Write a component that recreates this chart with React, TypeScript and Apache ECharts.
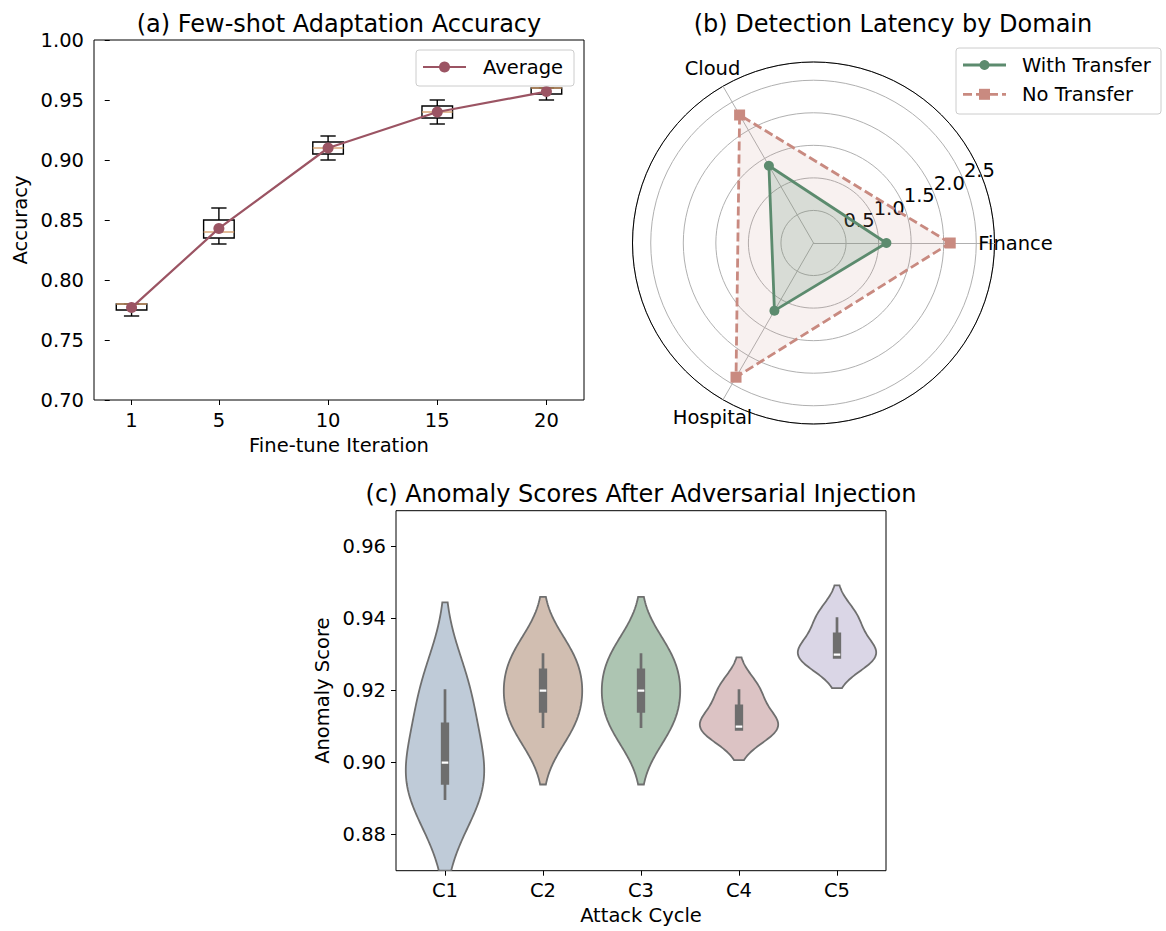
import React, { useEffect, useRef } from "react";
import * as echarts from "echarts";

// ---------- data ----------
// (a) few-shot adaptation accuracy, samples per fine-tune iteration
const ITERATIONS = [1, 5, 10, 15, 20];
const ACC_IT1 = [0.77, 0.775, 0.78, 0.78, 0.78];
const ACC_IT5 = [0.83, 0.835, 0.84, 0.85, 0.86];
const ACC_IT10 = [0.9, 0.905, 0.91, 0.915, 0.92];
const ACC_IT15 = [0.93, 0.935, 0.94, 0.945, 0.95];
const ACC_IT20 = [0.95, 0.955, 0.96, 0.96, 0.96];
const ACC_SAMPLES = [ACC_IT1, ACC_IT5, ACC_IT10, ACC_IT15, ACC_IT20];

// (b) detection latency by domain
const DOMAINS = ["Finance", "Cloud", "Hospital"];
const LATENCY_WITH = [1.12, 1.37, 1.2];
const LATENCY_NO = [2.1, 2.27, 2.38];
const RADIAL_MAX = 2.78;
const RADIAL_STEP = 0.5;

// (c) anomaly scores per attack cycle
const CYCLES = ["C1", "C2", "C3", "C4", "C5"];
const SCORES_C1 = [0.89, 0.9, 0.92];
const SCORES_C2 = [0.91, 0.92, 0.93];
const SCORES_C3 = [0.91, 0.92, 0.93];
const SCORES_C4 = [0.91, 0.91, 0.92];
const SCORES_C5 = [0.93, 0.93, 0.94];
const SCORES = [SCORES_C1, SCORES_C2, SCORES_C3, SCORES_C4, SCORES_C5];
const SCORE_TICKS = [0.88, 0.9, 0.92, 0.94, 0.96];

// ---------- styling ----------
const FONT = "DejaVu Sans";
const TICK_FS = 19.5;
const LABEL_FS = 19.5;
const TITLE_FS = 24;
const LINE_COLOR = "#9b5463";
const MEDIAN_COLOR = "#d6a06c";
const GREEN = "#5c8b6e";
const PINK = "#c98a80";
const VIOLIN_COLORS = ["#bfcbd8", "#d1beb1", "#adc5b2", "#dcc3c4", "#dad6e6"];
const VIOLIN_EDGE = "#6f6f6f";
const INNER_COLOR = "#6e6e6e";
const BOX_WIDTH = 1.4;

const POLAR_CX = 813.5;
const POLAR_CY = 243;
const POLAR_R = 181;
const NAME_R = 202;

// ---------- helpers ----------
function percentile(arr: number[], p: number) {
  const s = [...arr].sort((a, b) => a - b);
  const idx = (s.length - 1) * p;
  const lo = Math.floor(idx);
  const hi = Math.ceil(idx);
  return s[lo] + (s[hi] - s[lo]) * (idx - lo);
}
function mean(arr: number[]) {
  return arr.reduce((a, b) => a + b, 0) / arr.length;
}
function boxStats(arr: number[]) {
  const q1 = percentile(arr, 0.25);
  const med = percentile(arr, 0.5);
  const q3 = percentile(arr, 0.75);
  const iqr = q3 - q1;
  const lo = Math.min(...arr.filter((v) => v >= q1 - 1.5 * iqr));
  const hi = Math.max(...arr.filter((v) => v <= q3 + 1.5 * iqr));
  return { lo, q1, med, q3, hi };
}
function kde(arr: number[]) {
  const n = arr.length;
  const m = mean(arr);
  const sd = Math.sqrt(arr.reduce((a, b) => a + (b - m) * (b - m), 0) / (n - 1));
  const bw = Math.pow(n, -0.2) * sd;
  const lo = Math.min(...arr) - 2 * bw;
  const hi = Math.max(...arr) + 2 * bw;
  const ys: number[] = [];
  const ds: number[] = [];
  const G = 100;
  for (let k = 0; k < G; k++) {
    const y = lo + ((hi - lo) * k) / (G - 1);
    let d = 0;
    for (const x of arr) d += Math.exp(-0.5 * ((y - x) / bw) ** 2);
    ys.push(y);
    ds.push(d);
  }
  const mx = Math.max(...ds);
  return { ys, ws: ds.map((d) => d / mx), lo, hi };
}

const ACC_BOX = ACC_SAMPLES.map(boxStats);
const ACC_MEAN = ACC_SAMPLES.map(mean);
const VIOLINS = SCORES.map(kde);
const VIOLIN_BOX = SCORES.map(boxStats);

const Y_C_MIN = 0.87;
const Y_C_MAX = 0.97;

export default function App() {
  const ref = useRef<HTMLDivElement>(null);
  useEffect(() => {
    if (!ref.current) return;
    const chart = echarts.init(ref.current, null, { renderer: "svg" });

    const tickLabel = { fontSize: TICK_FS, color: "#000", fontFamily: FONT };
    const nameStyle = { fontSize: LABEL_FS, color: "#000", fontFamily: FONT };

    const option: any = {
      animation: false,
      textStyle: { fontFamily: FONT },
      grid: [
        { left: 94, top: 40, width: 490, height: 360, show: true, borderColor: "#000", borderWidth: 1, backgroundColor: "transparent" },
        { left: 396, top: 510.7, width: 490, height: 360, show: true, borderColor: "#000", borderWidth: 1, backgroundColor: "transparent" },
      ],
      xAxis: [
        {
          type: "value",
          gridIndex: 0,
          min: -0.72,
          max: 21.72,
          axisLine: { show: false },
          axisTick: { show: true, length: 5, lineStyle: { color: "#000" }, customValues: ITERATIONS },
          axisLabel: { ...tickLabel, margin: 10, customValues: ITERATIONS },
          splitLine: { show: false },
          name: "Fine-tune Iteration",
          nameLocation: "middle",
          nameGap: 35,
          nameTextStyle: nameStyle,
        },
        {
          type: "category",
          gridIndex: 1,
          data: CYCLES,
          boundaryGap: true,
          axisLine: { show: false },
          axisTick: { show: true, alignWithLabel: true, length: 5, lineStyle: { color: "#000" } },
          axisLabel: { ...tickLabel, margin: 10 },
          splitLine: { show: false },
          name: "Attack Cycle",
          nameLocation: "middle",
          nameGap: 35,
          nameTextStyle: nameStyle,
        },
      ],
      yAxis: [
        {
          type: "value",
          gridIndex: 0,
          min: 0.7,
          max: 1.0,
          interval: 0.05,
          axisLine: { show: false },
          axisTick: { show: true, length: 5, lineStyle: { color: "#000" } },
          axisLabel: { ...tickLabel, margin: 10, formatter: (v: number) => v.toFixed(2) },
          splitLine: { show: false },
          name: "Accuracy",
          nameLocation: "middle",
          nameGap: 64,
          nameTextStyle: nameStyle,
        },
        {
          type: "value",
          gridIndex: 1,
          min: Y_C_MIN,
          max: Y_C_MAX,
          axisLine: { show: false },
          axisTick: { show: true, length: 5, lineStyle: { color: "#000" }, customValues: SCORE_TICKS },
          axisLabel: { ...tickLabel, margin: 10, customValues: SCORE_TICKS, formatter: (v: number) => v.toFixed(2) },
          splitLine: { show: false },
          name: "Anomaly Score",
          nameLocation: "middle",
          nameGap: 64,
          nameTextStyle: nameStyle,
        },
      ],
      polar: { center: [POLAR_CX, POLAR_CY], radius: POLAR_R },
      angleAxis: {
        type: "value",
        min: 0,
        max: 360,
        startAngle: 22.5,
        clockwise: false,
        axisLine: { show: true, lineStyle: { color: "#000", width: 1 } },
        axisTick: { show: false },
        axisLabel: { show: false },
        splitLine: { show: false },
      },
      radiusAxis: {
        type: "value",
        min: 0,
        max: RADIAL_MAX,
        interval: RADIAL_STEP,
        axisLine: { show: false },
        axisTick: { show: false },
        splitLine: { show: true, lineStyle: { color: "#b0b0b0", width: 1 } },
        axisLabel: {
          show: true,
          margin: 0,
          align: "left",
          verticalAlign: "bottom",
          fontSize: TICK_FS,
          color: "#000",
          fontFamily: FONT,
          formatter: (v: number) => {
            const k = v / RADIAL_STEP;
            return v > 0 && Math.abs(k - Math.round(k)) < 1e-6 ? v.toFixed(1) : "";
          },
        },
      },
      radar: {
        center: [POLAR_CX, POLAR_CY],
        radius: POLAR_R,
        startAngle: 0,
        shape: "circle",
        indicator: DOMAINS.map((name) => ({ name, min: 0, max: RADIAL_MAX })),
        axisName: { show: false },
        axisLine: { lineStyle: { color: "#b0b0b0", width: 1 } },
        splitLine: { show: false },
        splitArea: { show: false },
        axisTick: { show: false },
        axisLabel: { show: false },
      },
      series: [
        {
          type: "custom",
          name: "boxes",
          xAxisIndex: 0,
          yAxisIndex: 0,
          data: ITERATIONS.map((it, i) => [it, ACC_BOX[i].lo, ACC_BOX[i].q1, ACC_BOX[i].med, ACC_BOX[i].q3, ACC_BOX[i].hi]),
          encode: { x: 0, y: [1, 2, 3, 4, 5] },
          z: 2,
          renderItem: (params: any, api: any) => {
            const x = api.value(0);
            const p = (v: number) => api.coord([x, v]);
            const [cx, yLo] = p(api.value(1));
            const yQ1 = p(api.value(2))[1];
            const yMed = p(api.value(3))[1];
            const yQ3 = p(api.value(4))[1];
            const yHi = p(api.value(5))[1];
            const w = api.size([BOX_WIDTH, 0])[0];
            const half = w / 2;
            const cap = w / 4;
            const st = { stroke: "#000", lineWidth: 1.4, fill: null };
            return {
              type: "group",
              children: [
                { type: "line", shape: { x1: cx, y1: yQ1, x2: cx, y2: yLo }, style: st },
                { type: "line", shape: { x1: cx, y1: yQ3, x2: cx, y2: yHi }, style: st },
                { type: "line", shape: { x1: cx - cap, y1: yLo, x2: cx + cap, y2: yLo }, style: st },
                { type: "line", shape: { x1: cx - cap, y1: yHi, x2: cx + cap, y2: yHi }, style: st },
                { type: "rect", shape: { x: cx - half, y: yQ3, width: w, height: yQ1 - yQ3 }, style: { stroke: "#000", lineWidth: 1.4, fill: "none" } },
                { type: "line", shape: { x1: cx - half, y1: yMed, x2: cx + half, y2: yMed }, style: { stroke: MEDIAN_COLOR, lineWidth: 1.4 } },
              ],
            };
          },
        },
        {
          type: "line",
          name: "Average",
          xAxisIndex: 0,
          yAxisIndex: 0,
          data: ITERATIONS.map((it, i) => [it, ACC_MEAN[i]]),
          symbol: "circle",
          symbolSize: 11,
          itemStyle: { color: LINE_COLOR },
          lineStyle: { color: LINE_COLOR, width: 2.2 },
          z: 3,
        },
        {
          type: "radar",
          radarIndex: 0,
          z: 3,
          data: [
            {
              name: "No Transfer",
              value: LATENCY_NO,
              symbol: "rect",
              symbolSize: 11,
              itemStyle: { color: PINK },
              lineStyle: { color: PINK, width: 2.8, type: [9, 4] },
              areaStyle: { color: PINK, opacity: 0.12 },
            },
            {
              name: "With Transfer",
              value: LATENCY_WITH,
              symbol: "circle",
              symbolSize: 10,
              itemStyle: { color: GREEN },
              lineStyle: { color: GREEN, width: 2.8 },
              areaStyle: { color: GREEN, opacity: 0.2 },
            },
          ],
        },
        {
          type: "custom",
          name: "violins",
          xAxisIndex: 1,
          yAxisIndex: 1,
          clip: true,
          data: CYCLES.map((c, i) => [i, VIOLINS[i].lo, VIOLINS[i].hi]),
          encode: { x: 0, y: [1, 2] },
          renderItem: (params: any, api: any) => {
            const i = params.dataIndex;
            const v = VIOLINS[i];
            const b = VIOLIN_BOX[i];
            const band = api.size([1, 0])[0];
            const halfMax = band * 0.4;
            const pts: [number, number][] = [];
            for (let k = 0; k < v.ys.length; k++) {
              const y = v.ys[k];
              const inside = y >= Y_C_MIN && y <= Y_C_MAX;
              if (k > 0) {
                const y0 = v.ys[k - 1];
                const in0 = y0 >= Y_C_MIN && y0 <= Y_C_MAX;
                if (in0 !== inside) {
                  const edge = y0 < Y_C_MIN || y < Y_C_MIN ? Y_C_MIN : Y_C_MAX;
                  const t = (edge - y0) / (y - y0);
                  pts.push([edge, v.ws[k - 1] + (v.ws[k] - v.ws[k - 1]) * t]);
                }
              }
              if (inside) pts.push([y, v.ws[k]]);
            }
            const cx = api.coord([i, b.med])[0];
            const right = pts.map(([y, w]) => [cx + w * halfMax, api.coord([i, y])[1]]);
            const left = pts.slice().reverse().map(([y, w]) => [cx - w * halfMax, api.coord([i, y])[1]]);
            const yLo = api.coord([i, b.lo])[1];
            const yQ1 = api.coord([i, b.q1])[1];
            const yMed = api.coord([i, b.med])[1];
            const yQ3 = api.coord([i, b.q3])[1];
            const yHi = api.coord([i, b.hi])[1];
            return {
              type: "group",
              children: [
                {
                  type: "polygon",
                  shape: { points: right.concat(left) },
                  style: { fill: VIOLIN_COLORS[i], stroke: VIOLIN_EDGE, lineWidth: 1.8 },
                },
                {
                  type: "line",
                  shape: { x1: cx, y1: yLo, x2: cx, y2: yHi },
                  style: { stroke: INNER_COLOR, lineWidth: 2.7, lineCap: "square" },
                },
                {
                  type: "line",
                  shape: { x1: cx, y1: yQ1, x2: cx, y2: yQ3 },
                  style: { stroke: INNER_COLOR, lineWidth: 8.3, lineCap: "square" },
                },
                {
                  type: "line",
                  shape: { x1: cx - 3.3, y1: yMed, x2: cx + 3.3, y2: yMed },
                  style: { stroke: "#ffffff", lineWidth: 2.2 },
                },
              ],
            };
          },
        },
      ],
      graphic: [
        { type: "text", x: 339, y: 23.5, z: 50, style: { text: "(a) Few-shot Adaptation Accuracy", fontSize: TITLE_FS, fontFamily: FONT, fill: "#000", align: "center", verticalAlign: "middle" } },
        { type: "text", x: 893, y: 23.5, z: 50, style: { text: "(b) Detection Latency by Domain", fontSize: TITLE_FS, fontFamily: FONT, fill: "#000", align: "center", verticalAlign: "middle" } },
        { type: "text", x: 641, y: 494.2, z: 50, style: { text: "(c) Anomaly Scores After Adversarial Injection", fontSize: TITLE_FS, fontFamily: FONT, fill: "#000", align: "center", verticalAlign: "middle" } },
        ...DOMAINS.map((name, i) => {
          const a = (i * 2 * Math.PI) / DOMAINS.length;
          return {
            type: "text",
            x: POLAR_CX + NAME_R * Math.cos(a),
            y: POLAR_CY - NAME_R * Math.sin(a),
            z: 50,
            style: { text: name, fontSize: LABEL_FS, fontFamily: FONT, fill: "#000", align: "center", verticalAlign: "middle" },
          };
        }),
        {
          type: "group",
          z: 100,
          children: [
            { type: "rect", shape: { x: 416, y: 50, width: 158, height: 36, r: 3 }, style: { fill: "rgba(255,255,255,0.85)", stroke: "#cccccc", lineWidth: 1 }, z: 100 },
            { type: "line", shape: { x1: 423, y1: 67, x2: 466, y2: 67 }, style: { stroke: LINE_COLOR, lineWidth: 2.2 }, z: 101 },
            { type: "circle", shape: { cx: 444.5, cy: 67, r: 5.5 }, style: { fill: LINE_COLOR }, z: 102 },
            { type: "text", x: 483, y: 67, z: 102, style: { text: "Average", fontSize: LABEL_FS, fontFamily: FONT, fill: "#000", align: "left", verticalAlign: "middle" } },
          ],
        },
        {
          type: "group",
          z: 100,
          children: [
            { type: "rect", shape: { x: 956, y: 48, width: 205, height: 66, r: 3 }, style: { fill: "rgba(255,255,255,0.85)", stroke: "#cccccc", lineWidth: 1 }, z: 100 },
            { type: "line", shape: { x1: 963, y1: 65, x2: 1006, y2: 65 }, style: { stroke: GREEN, lineWidth: 2.8 }, z: 101 },
            { type: "circle", shape: { cx: 984.5, cy: 65, r: 5 }, style: { fill: GREEN }, z: 102 },
            { type: "text", x: 1022, y: 65, z: 102, style: { text: "With Transfer", fontSize: LABEL_FS, fontFamily: FONT, fill: "#000", align: "left", verticalAlign: "middle" } },
            { type: "line", shape: { x1: 963, y1: 94.3, x2: 1006, y2: 94.3 }, style: { stroke: PINK, lineWidth: 2.8, lineDash: [9, 4] }, z: 101 },
            { type: "rect", shape: { x: 979, y: 88.8, width: 11, height: 11 }, style: { fill: PINK }, z: 102 },
            { type: "text", x: 1022, y: 94.3, z: 102, style: { text: "No Transfer", fontSize: LABEL_FS, fontFamily: FONT, fill: "#000", align: "left", verticalAlign: "middle" } },
          ],
        },
      ],
    };

    chart.setOption(option);
    return () => chart.dispose();
  }, []);

  return (
    <div
      ref={ref}
      style={{ position: "fixed", left: 0, top: 0, width: 1166, height: 931, background: "#fff" }}
    />
  );
}
